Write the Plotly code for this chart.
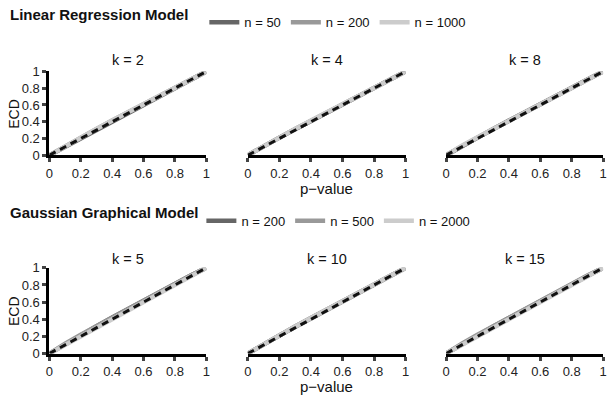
import plotly.graph_objects as go
from plotly.subplots import make_subplots

p_grid = [0, 0.05, 0.1, 0.2, 0.3, 0.4, 0.5, 0.6, 0.7, 0.8, 0.9, 1.0]
ref_line = [0, 1]

# Linear regression model, ECD per k and n
lr_k2_n50 = [0, 0.05, 0.105, 0.21, 0.31, 0.41, 0.51, 0.61, 0.71, 0.81, 0.905, 1]
lr_k2_n200 = [0, 0.055, 0.11, 0.215, 0.315, 0.415, 0.515, 0.61, 0.71, 0.805, 0.905, 1]
lr_k2_n1000 = [0, 0.055, 0.11, 0.215, 0.315, 0.415, 0.515, 0.61, 0.71, 0.805, 0.9, 1]
lr_k4_n50 = [0, 0.055, 0.105, 0.21, 0.31, 0.405, 0.505, 0.605, 0.705, 0.805, 0.905, 1]
lr_k4_n200 = [0, 0.055, 0.11, 0.215, 0.315, 0.41, 0.51, 0.61, 0.705, 0.805, 0.905, 1]
lr_k4_n1000 = [0, 0.055, 0.11, 0.215, 0.315, 0.415, 0.51, 0.61, 0.71, 0.805, 0.9, 1]
lr_k8_n50 = [0, 0.055, 0.11, 0.215, 0.315, 0.415, 0.51, 0.61, 0.705, 0.805, 0.905, 1]
lr_k8_n200 = [0, 0.055, 0.11, 0.21, 0.31, 0.41, 0.51, 0.605, 0.705, 0.805, 0.9, 1]
lr_k8_n1000 = [0, 0.06, 0.115, 0.215, 0.315, 0.415, 0.515, 0.61, 0.705, 0.8, 0.9, 1]

# Gaussian graphical model, ECD per k and n
gg_k5_n200 = [0, 0.055, 0.11, 0.215, 0.32, 0.42, 0.52, 0.615, 0.715, 0.81, 0.91, 1]
gg_k5_n500 = [0, 0.06, 0.115, 0.22, 0.32, 0.42, 0.52, 0.62, 0.715, 0.815, 0.91, 1]
gg_k5_n2000 = [0, 0.05, 0.105, 0.205, 0.31, 0.41, 0.51, 0.61, 0.71, 0.805, 0.905, 1]
gg_k10_n200 = [0, 0.055, 0.11, 0.215, 0.315, 0.415, 0.51, 0.61, 0.71, 0.805, 0.905, 1]
gg_k10_n500 = [0, 0.055, 0.105, 0.21, 0.31, 0.41, 0.51, 0.605, 0.705, 0.805, 0.9, 1]
gg_k10_n2000 = [0, 0.055, 0.11, 0.215, 0.315, 0.415, 0.51, 0.61, 0.71, 0.805, 0.905, 1]
gg_k15_n200 = [0, 0.055, 0.11, 0.215, 0.315, 0.415, 0.515, 0.615, 0.71, 0.81, 0.905, 1]
gg_k15_n500 = [0, 0.06, 0.115, 0.22, 0.32, 0.42, 0.52, 0.62, 0.715, 0.81, 0.91, 1]
gg_k15_n2000 = [0, 0.05, 0.105, 0.21, 0.31, 0.41, 0.51, 0.605, 0.705, 0.8, 0.9, 1]

lr_k = ["k = 2", "k = 4", "k = 8"]
gg_k = ["k = 5", "k = 10", "k = 15"]
lr_n = ["n = 50", "n = 200", "n = 1000"]
gg_n = ["n = 200", "n = 500", "n = 2000"]

tick_vals = [0, 0.2, 0.4, 0.6, 0.8, 1]
tick_text = ["0", "0.2", "0.4", "0.6", "0.8", "1"]

greys = ["#666666", "#999999", "#cccccc"]
FONT = "Liberation Sans, Arial, sans-serif"

rows = [
    [[lr_k2_n50, lr_k2_n200, lr_k2_n1000],
     [lr_k4_n50, lr_k4_n200, lr_k4_n1000],
     [lr_k8_n50, lr_k8_n200, lr_k8_n1000]],
    [[gg_k5_n200, gg_k5_n500, gg_k5_n2000],
     [gg_k10_n200, gg_k10_n500, gg_k10_n2000],
     [gg_k15_n200, gg_k15_n500, gg_k15_n2000]],
]
row_names = [lr_n, gg_n]
legends = ["legend", "legend2"]

fig = make_subplots(rows=2, cols=3)

for r in range(2):
    for c in range(3):
        for i, ecd in enumerate(rows[r][c]):
            fig.add_trace(go.Scatter(
                x=p_grid, y=ecd, mode="lines",
                name=row_names[r][i],
                line=dict(color=greys[i], width=4.5),
                legend=legends[r],
                showlegend=(c == 0),
                hoverinfo="skip",
            ), row=r + 1, col=c + 1)
        # reference diagonal
        fig.add_trace(go.Scatter(
            x=ref_line, y=ref_line, mode="lines",
            line=dict(color="#111111", width=3, dash="7px,5px"),
            showlegend=False, hoverinfo="skip",
        ), row=r + 1, col=c + 1)

x_domains = [[46 / 611, 205 / 611], [247 / 611, 407 / 611], [448 / 611, 607 / 611]]
y_domains = [[(401 - 154) / 401, (401 - 67) / 401], [(401 - 360) / 401, (401 - 271) / 401]]

for r in range(2):
    for c in range(3):
        fig.update_xaxes(
            row=r + 1, col=c + 1, domain=x_domains[c], range=[0, 1],
            showline=True, linecolor="black", linewidth=3,
            ticks="outside", ticklen=4, tickwidth=3, tickcolor="#444444",
            tickvals=tick_vals, ticktext=tick_text,
            showgrid=False, zeroline=False, fixedrange=True,
            tickfont=dict(size=13, color="#222222"),
        )
        fig.update_yaxes(
            row=r + 1, col=c + 1, domain=y_domains[r], range=[0, 1],
            showline=(c == 0), linecolor="black", linewidth=3,
            ticks="outside" if c == 0 else "", ticklen=4, tickwidth=3,
            tickcolor="#444444",
            tickvals=tick_vals, ticktext=tick_text, showticklabels=(c == 0),
            showgrid=False, zeroline=False, fixedrange=True,
            tickfont=dict(size=13, color="#222222"),
        )

annotations = []
titles = ["Linear Regression Model", "Gaussian Graphical Model"]
title_y = [(401 - 8) / 401, (401 - 213) / 401]
panel_y = [(401 - 55) / 401, (401 - 262) / 401]
xlab_y = [(401 - 178) / 401, (401 - 383) / 401]
ylab_y = [(401 - 111) / 401, (401 - 316) / 401]
k_labels = [lr_k, gg_k]

for r in range(2):
    annotations.append(dict(
        text="<b>" + titles[r] + "</b>", x=4 / 611, y=title_y[r],
        xref="paper", yref="paper", xanchor="left", yanchor="middle",
        showarrow=False, font=dict(size=15, color="#111111"),
    ))
    for c in range(3):
        annotations.append(dict(
            text=k_labels[r][c], x=sum(x_domains[c]) / 2, y=panel_y[r],
            xref="paper", yref="paper", xanchor="center", yanchor="middle",
            showarrow=False, font=dict(size=14.5, color="#111111"),
        ))
    annotations.append(dict(
        text="p\u2212value", x=sum(x_domains[1]) / 2, y=xlab_y[r],
        xref="paper", yref="paper", xanchor="center", yanchor="top",
        showarrow=False, font=dict(size=15, color="#111111"),
    ))
    annotations.append(dict(
        text="ECD", x=10 / 611, y=ylab_y[r], textangle=-90,
        xref="paper", yref="paper", xanchor="center", yanchor="middle",
        showarrow=False, font=dict(size=14, color="#111111"),
    ))

fig.update_layout(
    width=611, height=401,
    margin=dict(l=0, r=0, t=0, b=0),
    paper_bgcolor="white", plot_bgcolor="white",
    font=dict(family=FONT, size=12, color="#111111"),
    annotations=annotations,
    legend=dict(
        orientation="h", x=203 / 611, y=(401 - 16) / 401,
        xanchor="left", yanchor="middle",
        font=dict(size=13), itemwidth=30, tracegroupgap=0,
        bgcolor="rgba(0,0,0,0)",
    ),
    legend2=dict(
        orientation="h", x=200 / 611, y=(401 - 222) / 401,
        xanchor="left", yanchor="middle",
        font=dict(size=13), itemwidth=30, tracegroupgap=0,
        bgcolor="rgba(0,0,0,0)",
    ),
)

# drop the default page margin so the 611x401 figure fills the window
fig.write_html(
    "out.html",
    config={"displayModeBar": False},
    post_script="document.documentElement.style.margin='0';"
                "document.body.style.margin='0';"
                "document.body.style.overflow='hidden';",
)
